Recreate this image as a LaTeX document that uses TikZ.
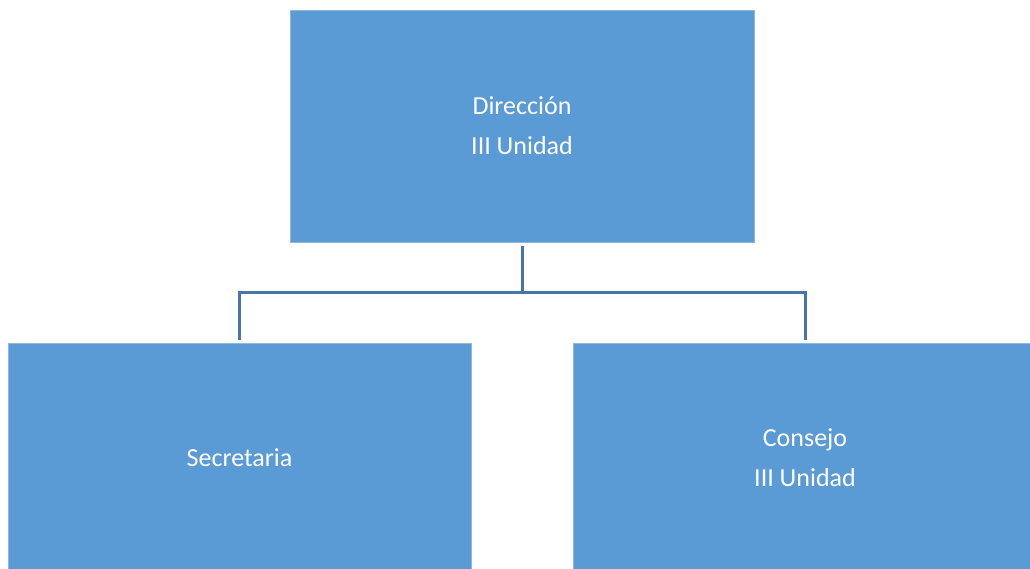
\documentclass[tikz,border=0pt]{standalone}
\usepackage{fontspec}
\setmainfont{Carlito}
\definecolor{boxfill}{HTML}{5B9BD5}
\definecolor{boxedge}{HTML}{8FB8E0}
\definecolor{linkcol}{HTML}{4677A8}
\begin{document}
\begin{tikzpicture}[x=1pt,y=-1pt,
  orgbox/.style={rectangle, fill=boxfill, draw=boxedge, line width=0.6pt, inner sep=0pt, text=white,
    font=\fontsize{26}{40}\selectfont, align=center},
  link/.style={draw=linkcol, line width=3pt}]
\useasboundingbox (0,0) rectangle (1030,569);
\clip (0,0) rectangle (1030,569);
\node[orgbox, minimum width=464pt, minimum height=232pt] (dir) at (522,126) {Dirección\\III Unidad};
\node[orgbox, minimum width=463pt, minimum height=230pt] (sec) at (239.5,458) {Secretaria};
\node[orgbox, minimum width=464pt, minimum height=230pt] (con) at (805,458) {Consejo\\III Unidad};
\coordinate (top) at (522,246);
\coordinate (mid) at (522,292);
\coordinate (l) at (sec.north |- mid);
\coordinate (r) at (con.north |- mid);
\coordinate (ld) at (239.5,340);
\coordinate (rd) at (805,340);
\draw[link] (top) -- (mid);
\draw[link] (ld) -- (l) -- (r) -- (rd);
\end{tikzpicture}
\end{document}
